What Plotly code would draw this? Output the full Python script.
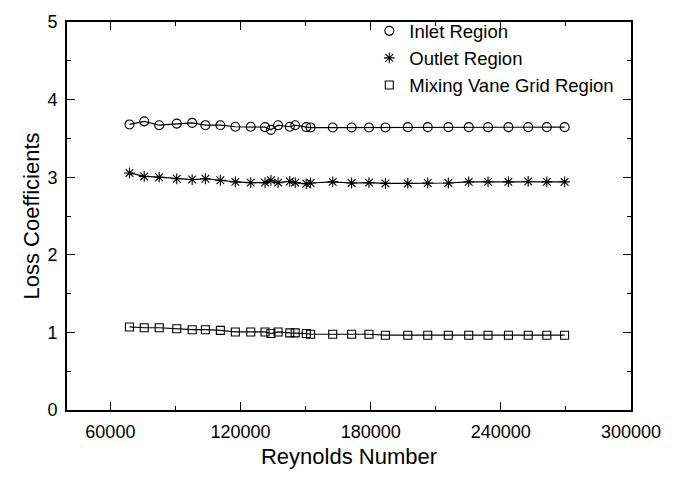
import plotly.graph_objects as go

reynolds = [68800, 75600, 82500, 90600, 97700, 103800, 110700, 117600, 124700, 131300,
            134000, 137300, 142700, 145200, 150300, 152300, 162500, 171200, 179200, 186800,
            197100, 206300, 215800, 225200, 234100, 243500, 252600, 261200, 269400]

inlet = [3.68, 3.72, 3.67, 3.69, 3.70, 3.67, 3.67, 3.65, 3.65, 3.645,
         3.61, 3.67, 3.65, 3.67, 3.645, 3.64, 3.64, 3.64, 3.64, 3.64,
         3.645, 3.645, 3.645, 3.645, 3.645, 3.645, 3.645, 3.645, 3.645]

outlet = [3.055, 3.01, 3.00, 2.98, 2.97, 2.98, 2.96, 2.94, 2.93, 2.93,
          2.96, 2.93, 2.945, 2.93, 2.915, 2.925, 2.94, 2.925, 2.93, 2.92,
          2.92, 2.925, 2.925, 2.94, 2.94, 2.94, 2.945, 2.94, 2.94]

mixing = [1.07, 1.06, 1.06, 1.047, 1.035, 1.035, 1.026, 1.006, 1.006, 1.006,
          0.985, 1.006, 0.994, 0.994, 0.985, 0.976, 0.976, 0.976, 0.976, 0.964,
          0.964, 0.964, 0.964, 0.964, 0.964, 0.964, 0.964, 0.964, 0.964]

x_tick_vals = [60000, 120000, 180000, 240000, 300000]
x_tick_text = ["60000", "120000", "180000", "240000", "300000"]
y_tick_vals = [0, 1, 2, 3, 4, 5]

series_names = ["Inlet Region", "Outlet Region", "Mixing Vane Grid Region"]
series_values = [inlet, outlet, mixing]
symbols = ["circle-open", "asterisk-open", "square-open"]
sizes = [9, 9, 8]

FONT = "Liberation Sans, Arial, sans-serif"

fig = go.Figure()
for name, vals in zip(series_names, series_values):
    fig.add_trace(go.Scatter(x=reynolds, y=vals, mode="lines",
                             line=dict(color="black", width=1.2),
                             showlegend=False, hoverinfo="skip"))
for name, vals, sym, sz in zip(series_names, series_values, symbols, sizes):
    fig.add_trace(go.Scatter(x=reynolds, y=vals, mode="markers", name=name,
                             marker=dict(symbol=sym, size=sz, color="black",
                                         line=dict(color="black", width=1.1))))

axis_common = dict(
    showline=True, linecolor="black", linewidth=1.6, mirror="allticks",
    ticks="inside", ticklen=8, tickwidth=1.3, tickcolor="black",
    showgrid=False, zeroline=False,
    tickfont=dict(family=FONT, size=18, color="black"),
)

fig.update_xaxes(range=[40000, 300000], tickmode="array",
                 tickvals=x_tick_vals, ticktext=x_tick_text,
                 ticklabelstandoff=5,
                 minor=dict(dtick=30000, tick0=0, ticks="inside", ticklen=4,
                            tickcolor="black", tickwidth=1),
                 title=dict(text="Reynolds Number",
                            font=dict(family=FONT, size=22, color="black"), standoff=7),
                 **axis_common)
fig.update_yaxes(range=[0, 5], tickmode="array", tickvals=y_tick_vals,
                 ticklabelstandoff=4,
                 minor=dict(dtick=0.5, tick0=0, ticks="inside", ticklen=4,
                            tickcolor="black", tickwidth=1),
                 title=dict(text="Loss Coefficients",
                            font=dict(family=FONT, size=22, color="black"), standoff=2),
                 **axis_common)

fig.update_layout(
    width=673, height=477,
    margin=dict(l=67, r=36, t=17, b=57),
    paper_bgcolor="white", plot_bgcolor="white",
    showlegend=True,
    legend=dict(x=0.536, y=1.025, xanchor="left", yanchor="top",
                bgcolor="rgba(0,0,0,0)", borderwidth=0,
                font=dict(family=FONT, size=18.5, color="black"),
                itemwidth=30, tracegroupgap=0),
)

fig.write_html("out.html", config={"displayModeBar": False},
               post_script="document.body.style.margin='0px';")
